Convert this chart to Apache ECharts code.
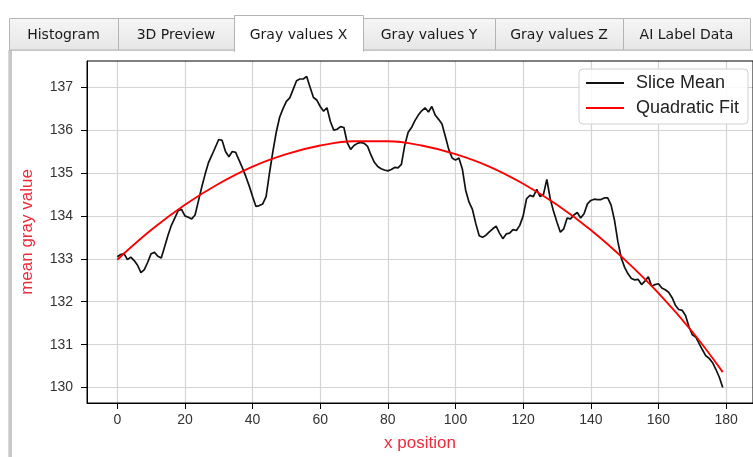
<!DOCTYPE html>
<html>
<head>
<meta charset="utf-8">
<title>Gray values X</title>
<script src="https://cdn.jsdelivr.net/npm/echarts@6/dist/echarts.min.js"></script>
<style>
    html, body { margin: 0; padding: 0; background: #fff; }
    #main { width: 753px; height: 457px; }
</style>
</head>
<body>
<div id="main"></div>
<script>
// slice mean, one value per x position (0..179)
var sliceMean = [
    133.05, 133.10, 133.12, 132.98, 133.04, 132.96, 132.85, 132.68, 132.75, 132.92,
    133.12, 133.15, 133.06, 133.02, 133.28, 133.55, 133.78, 133.95, 134.12, 134.15,
    134.00, 133.97, 133.93, 134.02, 134.35, 134.68, 134.98, 135.25, 135.42, 135.60,
    135.78, 135.76, 135.50, 135.38, 135.50, 135.48, 135.30, 135.12, 134.92, 134.70,
    134.45, 134.22, 134.24, 134.28, 134.45, 135.00, 135.50, 135.95, 136.30, 136.50,
    136.67, 136.75, 136.95, 137.15, 137.19, 137.19, 137.25, 137.00, 136.76, 136.70,
    136.55, 136.44, 136.52, 136.20, 136.00, 136.02, 136.08, 136.06, 135.70, 135.55,
    135.64, 135.69, 135.71, 135.69, 135.62, 135.42, 135.25, 135.15, 135.10, 135.07,
    135.05, 135.08, 135.13, 135.12, 135.20, 135.65, 135.95, 136.06, 136.22, 136.35,
    136.45, 136.52, 136.42, 136.55, 136.35, 136.25, 136.14, 135.85, 135.55, 135.35,
    135.30, 135.35, 135.10, 134.60, 134.32, 134.15, 133.82, 133.54, 133.50, 133.55,
    133.63, 133.70, 133.76, 133.60, 133.47, 133.58, 133.60, 133.68, 133.66, 133.78,
    134.00, 134.40, 134.48, 134.45, 134.62, 134.45, 134.50, 134.85, 134.40, 134.10,
    133.85, 133.62, 133.70, 133.95, 133.93, 134.02, 134.08, 133.95, 134.05, 134.28,
    134.36, 134.39, 134.38, 134.38, 134.42, 134.42, 134.25, 133.90, 133.40, 133.02,
    132.80, 132.65, 132.54, 132.51, 132.52, 132.40, 132.48, 132.58, 132.36, 132.40,
    132.42, 132.32, 132.28, 132.22, 132.10, 131.92, 131.82, 131.80, 131.68, 131.42,
    131.23, 131.18, 131.03, 130.88, 130.74, 130.68, 130.58, 130.42, 130.24, 130.00
];

// quadratic fit
var fitX = [0, 10, 20, 30, 40, 50, 60, 70, 80, 90, 100, 110, 120, 130, 140, 150, 160, 170, 179];
var fitY = [132.98, 133.67, 134.26, 134.75, 135.15, 135.44, 135.64, 135.74, 135.74, 135.64,
            135.44, 135.15, 134.75, 134.26, 133.67, 132.98, 132.20, 131.30, 130.36];

var xTicks = [0, 20, 40, 60, 80, 100, 120, 140, 160, 180];
var yTicks = [130, 131, 132, 133, 134, 135, 136, 137];
var tabNames = ['Histogram', '3D Preview', 'Gray values X', 'Gray values Y', 'Gray values Z', 'AI Label Data'];
var tabEdges = [9, 118, 234, 363, 495, 623, 750];
var activeTab = 2;

var FONT = '"Liberation Sans", Arial, sans-serif';
var NAME_RED = '#ee2a3c';
var LEGEND_ICON = 'path://M0,0 L38,0 L38,1.8 L0,1.8 Z';

function meanPoints() {
    var pts = [];
    for (var i = 0; i < sliceMean.length; i++) {
        pts.push([i, sliceMean[i]]);
    }
    return pts;
}

function fitPoints() {
    var pts = [];
    for (var i = 0; i < fitX.length; i++) {
        pts.push([fitX[i], fitY[i]]);
    }
    return pts;
}

function tabGraphics() {
    var els = [];
    // panel frame
    els.push({
        type: 'rect', z: 0,
        shape: { x: 9, y: 50, width: 760, height: 420 },
        style: { fill: '#fff', stroke: '#b4b4b4', lineWidth: 1 }
    });
    els.push({
        type: 'rect', z: 1,
        shape: { x: 9, y: 50, width: 3, height: 410 },
        style: { fill: '#c8c8c8' }
    });
    for (var i = 0; i < tabNames.length; i++) {
        var x0 = tabEdges[i], x1 = tabEdges[i + 1];
        var active = i === activeTab;
        els.push({
            type: 'rect', z: active ? 3 : 2,
            shape: { x: x0 + 0.5, y: active ? 15.5 : 18.5, width: x1 - x0, height: active ? 36 : 31.5 },
            style: {
                fill: active ? '#ffffff' : {
                    type: 'linear', x: 0, y: 0, x2: 0, y2: 1,
                    colorStops: [{ offset: 0, color: '#f6f6f6' }, { offset: 1, color: '#e6e6e6' }]
                },
                stroke: '#b4b4b4', lineWidth: 1
            }
        });
        els.push({
            type: 'text', z: 4,
            style: {
                text: tabNames[i],
                x: (x0 + x1) / 2, y: 35,
                align: 'center', verticalAlign: 'middle',
                font: '14px "DejaVu Sans", sans-serif',
                fill: '#1a1a1a'
            }
        });
    }
    // hide panel top border under the active tab
    els.push({
        type: 'rect', z: 5,
        shape: { x: tabEdges[activeTab] + 1, y: 49, width: tabEdges[activeTab + 1] - tabEdges[activeTab] - 1, height: 3 },
        style: { fill: '#fff' }
    });
    return els;
}

function showChart(chart) {
    var option = {
        backgroundColor: '#fff',
        animation: false,
        graphic: tabGraphics(),
        grid: {
            left: 87, top: 61, right: -5, bottom: 54,
            show: true, borderColor: '#000', borderWidth: 1, backgroundColor: 'transparent',
            z: 10
        },
        legend: {
            left: 579, top: 69,
            orient: 'vertical',
            backgroundColor: 'rgba(255,255,255,0.85)',
            borderColor: '#d0d0d0', borderWidth: 1, borderRadius: 4,
            padding: [4, 9, 6, 7],
            itemWidth: 38, itemHeight: 2, itemGap: 5,
            textStyle: { fontFamily: FONT, fontSize: 18, color: '#222', lineHeight: 20, padding: [0, 0, 0, 7] },
            data: [
                { name: 'Slice Mean', icon: LEGEND_ICON },
                { name: 'Quadratic Fit', icon: LEGEND_ICON }
            ]
        },
        xAxis: {
            type: 'value',
            min: -8.95, max: 187.95,
            name: 'x position', nameLocation: 'middle', nameGap: 32,
            nameTextStyle: { fontFamily: FONT, fontSize: 17, color: NAME_RED },
            axisLine: { show: true, onZero: false, lineStyle: { color: '#000', width: 1 } },
            axisTick: { show: true, length: 6, customValues: xTicks, lineStyle: { color: '#000' } },
            axisLabel: { customValues: xTicks, margin: 10, fontFamily: FONT, fontSize: 14, color: '#333' },
            splitLine: { show: true, lineStyle: { color: '#d4d4d4', width: 1.2 } }
        },
        yAxis: {
            type: 'value',
            min: 129.64, max: 137.61,
            name: 'mean gray value', nameLocation: 'middle', nameGap: 51,
            nameTextStyle: { fontFamily: FONT, fontSize: 17, color: NAME_RED },
            axisLine: { show: true, onZero: false, lineStyle: { color: '#000', width: 1 } },
            axisTick: { show: true, length: 6, customValues: yTicks, lineStyle: { color: '#000' } },
            axisLabel: { customValues: yTicks, margin: 14, fontFamily: FONT, fontSize: 14, color: '#333' },
            splitLine: { show: true, lineStyle: { color: '#d4d4d4', width: 1.2 } }
        },
        series: [
            {
                name: 'Slice Mean',
                type: 'line',
                data: meanPoints(),
                showSymbol: false, symbol: 'none',
                lineStyle: { color: '#111', width: 1.7 },
                itemStyle: { color: '#111' },
                z: 3
            },
            {
                name: 'Quadratic Fit',
                type: 'line',
                data: fitPoints(),
                smooth: 0.4,
                showSymbol: false, symbol: 'none',
                lineStyle: { color: '#ff0000', width: 1.9 },
                itemStyle: { color: '#ff0000' },
                z: 4
            }
        ]
    };
    chart.setOption(option);
}

var myChart = echarts.init(document.getElementById('main'));
showChart(myChart);
</script>
</body>
</html>
